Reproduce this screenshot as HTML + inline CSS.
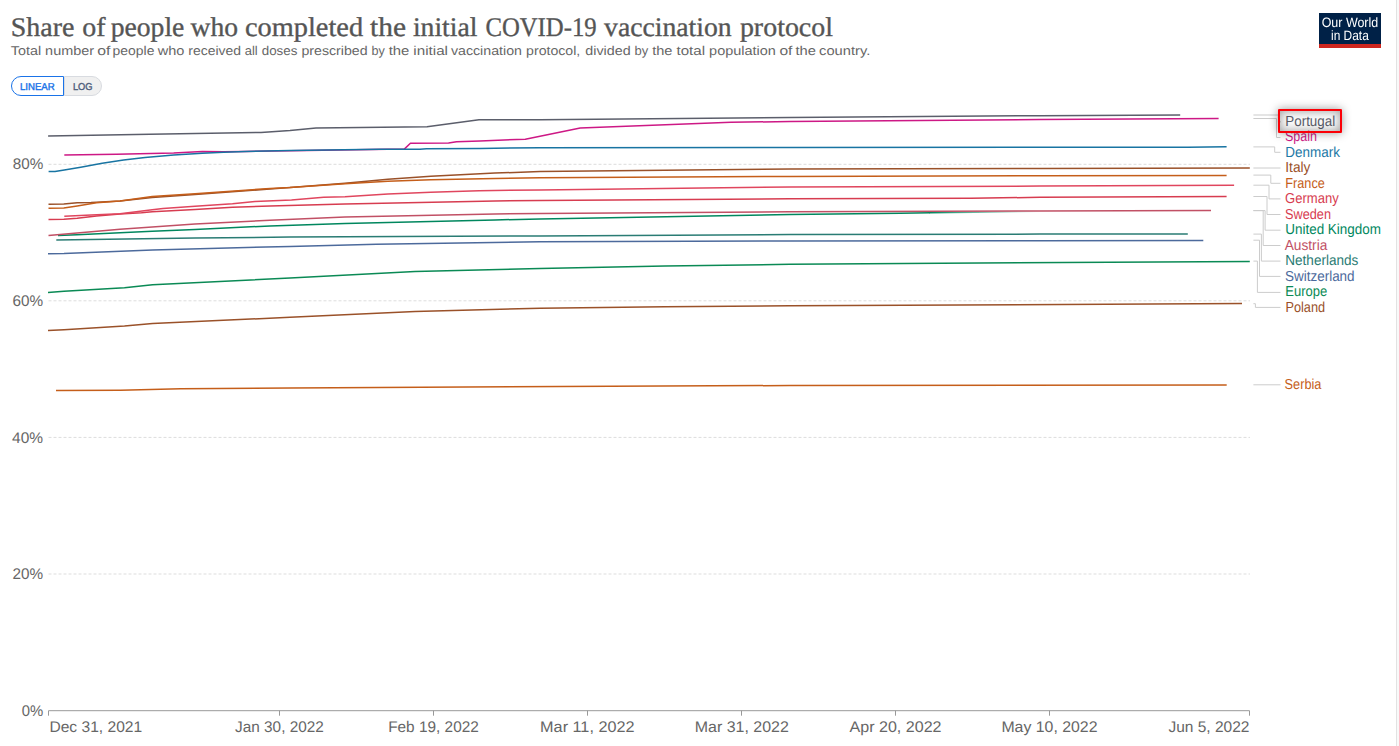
<!DOCTYPE html>
<html><head><meta charset="utf-8"><title>Share of people who completed the initial COVID-19 vaccination protocol</title>
<style>html,body{margin:0;padding:0;background:#fff;overflow:hidden}body{width:1399px;height:746px;position:relative}svg{display:block;position:absolute;left:0;top:0}.hl{position:absolute;left:1278px;top:109px;width:60px;height:20px;border:2px solid #fb0007;border-radius:1px;box-shadow:0 0 10px rgba(0,0,0,.4),inset 0 0 10px rgba(0,0,0,.38);background:rgba(0,0,0,.02)}text{font-family:"Liberation Sans",sans-serif;text-rendering:geometricPrecision}.ser text{font-family:"Liberation Serif",serif}</style></head><body>
<svg width="1399" height="746" viewBox="0 0 1399 746">
<defs><linearGradient id="ukf" gradientUnits="userSpaceOnUse" x1="930" y1="0" x2="1040" y2="0"><stop offset="0" stop-color="#00875e" stop-opacity="1"/><stop offset="1" stop-color="#00875e" stop-opacity="0"/></linearGradient><filter id="idn"><feOffset dx="0" dy="0"/></filter></defs>
<rect width="1399" height="746" fill="#fff"/>
<rect x="1396" y="0" width="1" height="746" fill="#e2e2e2"/><rect x="1397" y="0" width="2" height="746" fill="#f9f9f9"/>
<g class="ser" font-size="27" fill="#555" stroke="#555" stroke-width="0.35">
<text x="10.8" y="35.7" textLength="63.6" lengthAdjust="spacingAndGlyphs">Share</text>
<text x="82.2" y="35.7" textLength="23.3" lengthAdjust="spacingAndGlyphs">of</text>
<text x="110.7" y="35.7" textLength="73.7" lengthAdjust="spacingAndGlyphs">people</text>
<text x="190.5" y="35.7" textLength="47.5" lengthAdjust="spacingAndGlyphs">who</text>
<text x="245.0" y="35.7" textLength="118.1" lengthAdjust="spacingAndGlyphs">completed</text>
<text x="370.0" y="35.7" textLength="36.0" lengthAdjust="spacingAndGlyphs">the</text>
<text x="412.9" y="35.7" textLength="64.5" lengthAdjust="spacingAndGlyphs">initial</text>
<text x="485.4" y="35.7" textLength="111.3" lengthAdjust="spacingAndGlyphs">COVID-19</text>
<text x="604.1" y="35.7" textLength="127.6" lengthAdjust="spacingAndGlyphs">vaccination</text>
<text x="739.9" y="35.7" textLength="93.1" lengthAdjust="spacingAndGlyphs">protocol</text>
</g>
<g font-size="12.8" fill="#666">
<text x="10.8" y="55.4" textLength="30.3" lengthAdjust="spacingAndGlyphs">Total</text>
<text x="45.1" y="55.4" textLength="49.0" lengthAdjust="spacingAndGlyphs">number</text>
<text x="97.2" y="55.4" textLength="13.2" lengthAdjust="spacingAndGlyphs">of</text>
<text x="112.6" y="55.4" textLength="41.8" lengthAdjust="spacingAndGlyphs">people</text>
<text x="157.7" y="55.4" textLength="26.7" lengthAdjust="spacingAndGlyphs">who</text>
<text x="188.3" y="55.4" textLength="52.7" lengthAdjust="spacingAndGlyphs">received</text>
<text x="244.7" y="55.4" textLength="13.0" lengthAdjust="spacingAndGlyphs">all</text>
<text x="261.7" y="55.4" textLength="35.7" lengthAdjust="spacingAndGlyphs">doses</text>
<text x="301.4" y="55.4" textLength="66.2" lengthAdjust="spacingAndGlyphs">prescribed</text>
<text x="371.5" y="55.4" textLength="13.3" lengthAdjust="spacingAndGlyphs">by</text>
<text x="388.7" y="55.4" textLength="20.7" lengthAdjust="spacingAndGlyphs">the</text>
<text x="413.3" y="55.4" textLength="34.7" lengthAdjust="spacingAndGlyphs">initial</text>
<text x="450.9" y="55.4" textLength="71.1" lengthAdjust="spacingAndGlyphs">vaccination</text>
<text x="526.1" y="55.4" textLength="54.2" lengthAdjust="spacingAndGlyphs">protocol,</text>
<text x="585.3" y="55.4" textLength="45.4" lengthAdjust="spacingAndGlyphs">divided</text>
<text x="634.6" y="55.4" textLength="13.7" lengthAdjust="spacingAndGlyphs">by</text>
<text x="652.2" y="55.4" textLength="20.3" lengthAdjust="spacingAndGlyphs">the</text>
<text x="676.5" y="55.4" textLength="28.6" lengthAdjust="spacingAndGlyphs">total</text>
<text x="709.1" y="55.4" textLength="66.8" lengthAdjust="spacingAndGlyphs">population</text>
<text x="779.4" y="55.4" textLength="13.0" lengthAdjust="spacingAndGlyphs">of</text>
<text x="795.5" y="55.4" textLength="20.5" lengthAdjust="spacingAndGlyphs">the</text>
<text x="819.1" y="55.4" textLength="51.2" lengthAdjust="spacingAndGlyphs">country.</text>
</g>
<path d="M64.5,76.5 H92 a9.5,9.5 0 0 1 0,19 H64.5 Z" fill="#f0f0f0" stroke="#d8dbe0" stroke-width="1"/>
<path d="M63.5,76.5 H21 a9.5,9.5 0 0 0 0,19 H63.5 Z" fill="#fff" stroke="#1a73e8" stroke-width="1"/>
<text x="19.9" y="89.7" font-size="10" fill="#1a73e8" stroke="#1a73e8" stroke-width="0.4" textLength="34.8" lengthAdjust="spacingAndGlyphs">LINEAR</text>
<text x="72.9" y="89.7" font-size="10" fill="#4e5d7c" stroke="#4e5d7c" stroke-width="0.4" textLength="19.6" lengthAdjust="spacingAndGlyphs">LOG</text>
<rect x="1319" y="13" width="62" height="31" fill="#002147"/><rect x="1319" y="44" width="62" height="4" fill="#ce261e"/>
<g filter="url(#idn)"><text x="1321.7" y="27" font-size="13.6" fill="#fff" textLength="56.5" lengthAdjust="spacingAndGlyphs">Our World</text>
<text x="1331" y="40" font-size="13.6" fill="#fff" textLength="37.8" lengthAdjust="spacingAndGlyphs">in Data</text></g>
<line x1="48.5" x2="1250" y1="164.3" y2="164.3" stroke="#ddd" stroke-width="1" stroke-dasharray="3,2"/>
<line x1="48.5" x2="1250" y1="300.8" y2="300.8" stroke="#ddd" stroke-width="1" stroke-dasharray="3,2"/>
<line x1="48.5" x2="1250" y1="437.4" y2="437.4" stroke="#ddd" stroke-width="1" stroke-dasharray="3,2"/>
<line x1="48.5" x2="1250" y1="574.0" y2="574.0" stroke="#ddd" stroke-width="1" stroke-dasharray="3,2"/>
<text x="12.7" y="168.9" font-size="15.4" fill="#666" textLength="30.5" lengthAdjust="spacingAndGlyphs">80%</text>
<text x="12.5" y="306.0" font-size="15.4" fill="#666" textLength="30.6" lengthAdjust="spacingAndGlyphs">60%</text>
<text x="12.1" y="443.0" font-size="15.4" fill="#666" textLength="31.0" lengthAdjust="spacingAndGlyphs">40%</text>
<text x="12.5" y="579.0" font-size="15.4" fill="#666" textLength="30.6" lengthAdjust="spacingAndGlyphs">20%</text>
<text x="21.7" y="716.0" font-size="15.4" fill="#666" textLength="21.5" lengthAdjust="spacingAndGlyphs">0%</text>
<path d="M48.5,715.7 V710.7 H1249.5 V715.7" fill="none" stroke="#999" stroke-width="1"/>
<line x1="279.5" x2="279.5" y1="710.7" y2="715.7" stroke="#999" stroke-width="1"/>
<line x1="433.5" x2="433.5" y1="710.7" y2="715.7" stroke="#999" stroke-width="1"/>
<line x1="587.5" x2="587.5" y1="710.7" y2="715.7" stroke="#999" stroke-width="1"/>
<line x1="741.5" x2="741.5" y1="710.7" y2="715.7" stroke="#999" stroke-width="1"/>
<line x1="895.5" x2="895.5" y1="710.7" y2="715.7" stroke="#999" stroke-width="1"/>
<line x1="1049.5" x2="1049.5" y1="710.7" y2="715.7" stroke="#999" stroke-width="1"/>
<text x="49.4" y="732" font-size="15.4" fill="#666" textLength="92.8" lengthAdjust="spacingAndGlyphs">Dec 31, 2021</text>
<text x="235.1" y="732" font-size="15.4" fill="#666" textLength="88.7" lengthAdjust="spacingAndGlyphs">Jan 30, 2022</text>
<text x="388.2" y="732" font-size="15.4" fill="#666" textLength="90.6" lengthAdjust="spacingAndGlyphs">Feb 19, 2022</text>
<text x="540.1" y="732" font-size="15.4" fill="#666" textLength="94.4" lengthAdjust="spacingAndGlyphs">Mar 11, 2022</text>
<text x="694.8" y="732" font-size="15.4" fill="#666" textLength="94.0" lengthAdjust="spacingAndGlyphs">Mar 31, 2022</text>
<text x="849.5" y="732" font-size="15.4" fill="#666" textLength="92.0" lengthAdjust="spacingAndGlyphs">Apr 20, 2022</text>
<text x="1001.4" y="732" font-size="15.4" fill="#666" textLength="96.1" lengthAdjust="spacingAndGlyphs">May 10, 2022</text>
<text x="1168.4" y="732" font-size="15.4" fill="#666" textLength="81.0" lengthAdjust="spacingAndGlyphs">Jun 5, 2022</text>
<g fill="none" stroke="#ccc" stroke-width="1">
<path d="M1253.4,118.5 H1276.5 V137.5 H1280.5"/>
<path d="M1253.4,146.9 H1274.7 V152.3 H1280.5"/>
<path d="M1253.4,168.0 H1280.5"/>
<path d="M1253.4,175.1 H1270.8 V183.3 H1280.5"/>
<path d="M1253.4,185.2 H1269.0 V198.9 H1280.5"/>
<path d="M1253.4,196.5 H1267.0 V214.5 H1280.5"/>
<path d="M1253.4,210.6 H1265.1 V230.2 H1280.5"/>
<path d="M1253.4,210.6 H1263.2 V245.5 H1280.5"/>
<path d="M1253.4,234.1 H1261.4 V261.1 H1280.5"/>
<path d="M1253.4,240.2 H1259.5 V276.4 H1280.5"/>
<path d="M1253.4,261.1 H1257.4 V292.4 H1280.5"/>
<path d="M1253.4,303.7 H1255.4 V307.4 H1280.5"/>
<path d="M1253.4,384.8 H1280.5"/>
<path d="M1253.4,114.9 H1278.6 V121.8 H1281" stroke="#ddd" stroke-width="1.5"/>
</g>
<g fill="none" stroke-width="1.5" stroke-linejoin="round" stroke-linecap="butt">
<polyline stroke="#c55e1a" points="56.0,390.4 120.5,390.2 180.8,388.8 290.0,387.9 790.0,385.5 1226.7,384.9"/>
<polyline stroke="#9a5129" points="48.0,330.5 64.0,329.8 124.5,326.0 152.6,323.4 290.0,317.3 415.0,311.5 540.0,308.3 665.0,306.8 790.0,305.8 1242.0,303.6"/>
<polyline stroke="#0a8a55" points="48.0,292.4 64.0,291.2 124.5,287.8 152.6,284.8 290.0,278.1 415.0,271.4 540.0,268.6 665.0,266.1 790.0,264.3 1249.8,261.4"/>
<polyline stroke="#4c6a9c" points="48.0,253.8 64.0,253.6 152.6,250.0 290.0,246.4 376.5,244.2 540.0,241.8 790.0,241.0 1040.0,240.8 1203.3,240.4"/>
<polyline stroke="#2a7c74" points="56.3,240.1 195.0,238.0 290.0,237.1 540.0,235.9 790.0,234.5 1040.0,234.1 1187.8,233.9"/>
<polyline stroke="#00875e" points="58.0,235.4 77.2,234.7 120.0,232.7 152.2,231.3 195.0,229.5 270.0,225.9 345.0,223.4 495.0,219.9 540.0,219.0 790.0,214.6 900.0,213.2 930.0,212.8"/>
<polyline stroke="url(#ukf)" points="929.5,212.8 950,212.5 1000,211.9 1040,211.4"/>
<polyline stroke="#c15065" points="48.5,235.6 120.0,229.3 195.0,223.9 270.0,220.2 345.0,217.1 495.0,213.9 540.0,213.6 790.0,211.8 1040.0,211.0 1211.0,210.4"/>
<polyline stroke="#d73c50" points="48.5,219.5 63.8,219.3 77.2,218.2 96.5,215.9 120.0,213.9 141.5,212.7 152.2,211.8 195.0,209.4 232.5,207.2 270.0,206.1 345.0,203.9 495.0,200.9 540.0,200.5 790.0,198.7 971.0,198.3 1040.0,197.3 1226.6,196.5"/>
<polyline stroke="#e0465e" points="64.3,216.2 91.1,215.0 120.0,213.7 152.2,209.7 163.0,208.6 195.0,206.3 232.5,203.7 255.0,201.5 291.5,199.9 323.7,197.3 345.0,196.7 387.9,193.9 430.8,192.3 479.0,190.7 540.0,189.9 790.0,186.9 1040.0,186.1 1234.1,185.2"/>
<polyline stroke="#9a5129" points="48.5,204.3 63.8,204.1 77.2,202.7 91.1,202.5 96.5,202.2 120.0,201.1 152.2,197.6 195.0,194.6 270.0,189.0 290.0,187.5 345.0,183.2 387.9,179.3 430.8,176.3 495.0,173.1 540.0,171.6 790.0,169.0 1040.0,168.4 1249.8,168.0"/>
<polyline stroke="#c55e1a" points="48.5,208.2 63.8,207.9 77.2,205.9 96.5,202.7 120.0,200.9 152.2,196.6 195.0,193.7 270.0,188.4 290.0,187.6 345.0,183.8 387.9,181.3 430.8,179.8 495.0,178.6 540.0,177.8 790.0,176.4 1040.0,175.8 1226.6,175.4"/>
<polyline stroke="#cd1885" points="64.3,154.9 116.5,154.3 173.7,152.9 202.3,151.5 223.7,151.8 245.0,151.4 290.0,150.7 404.3,149.1 410.4,143.2 448.6,143.1 456.5,141.8 480.0,140.9 525.3,139.2 540.0,136.2 580.2,128.1 731.0,122.3 790.0,121.5 1040.0,119.5 1218.6,118.5"/>
<polyline stroke="#1874a2" points="48.6,171.5 55.0,171.5 64.3,170.0 80.7,167.2 102.2,163.2 123.6,160.0 145.0,157.4 173.7,155.0 202.3,153.2 223.7,152.3 245.0,151.4 290.0,150.5 380.0,149.3 420.0,149.2 426.5,148.7 480.0,148.4 540.0,147.8 790.0,147.6 1040.0,147.2 1188.0,147.2 1226.6,146.8"/>
<polyline stroke="#5b5e6b" points="48.1,135.9 150.0,134.2 261.0,132.4 290.0,130.5 316.0,128.1 427.0,126.7 479.0,119.7 540.0,119.7 790.0,117.5 1040.0,115.7 1180.2,114.9"/>
</g>
<text x="1285.3" y="126.2" font-size="14.5" fill="#5b5e6b" textLength="49.9" lengthAdjust="spacingAndGlyphs">Portugal</text>
<text x="1285.0" y="141.1" font-size="14.5" fill="#cf1a87" textLength="32.0" lengthAdjust="spacingAndGlyphs">Spain</text>
<text x="1285.3" y="157.0" font-size="14.5" fill="#1d78a6" textLength="54.6" lengthAdjust="spacingAndGlyphs">Denmark</text>
<text x="1285.3" y="172.3" font-size="14.5" fill="#9a5129" textLength="25.1" lengthAdjust="spacingAndGlyphs">Italy</text>
<text x="1285.3" y="187.8" font-size="14.5" fill="#c55e1a" textLength="39.5" lengthAdjust="spacingAndGlyphs">France</text>
<text x="1285.0" y="203.0" font-size="14.5" fill="#d73c50" textLength="53.7" lengthAdjust="spacingAndGlyphs">Germany</text>
<text x="1285.0" y="218.8" font-size="14.5" fill="#d73c50" textLength="46.0" lengthAdjust="spacingAndGlyphs">Sweden</text>
<text x="1285.3" y="234.2" font-size="14.5" fill="#00875e" textLength="95.6" lengthAdjust="spacingAndGlyphs">United Kingdom</text>
<text x="1284.7" y="249.8" font-size="14.5" fill="#c15065" textLength="42.6" lengthAdjust="spacingAndGlyphs">Austria</text>
<text x="1285.3" y="265.0" font-size="14.5" fill="#2a7c74" textLength="73.0" lengthAdjust="spacingAndGlyphs">Netherlands</text>
<text x="1285.0" y="280.7" font-size="14.5" fill="#4c6a9c" textLength="69.6" lengthAdjust="spacingAndGlyphs">Switzerland</text>
<text x="1285.3" y="296.0" font-size="14.5" fill="#0a8a55" textLength="42.0" lengthAdjust="spacingAndGlyphs">Europe</text>
<text x="1285.4" y="312.0" font-size="14.5" fill="#9a5129" textLength="39.7" lengthAdjust="spacingAndGlyphs">Poland</text>
<text x="1284.6" y="388.9" font-size="14.5" fill="#c55e1a" textLength="36.8" lengthAdjust="spacingAndGlyphs">Serbia</text>
</svg>
<div class="hl"></div>
</body></html>
